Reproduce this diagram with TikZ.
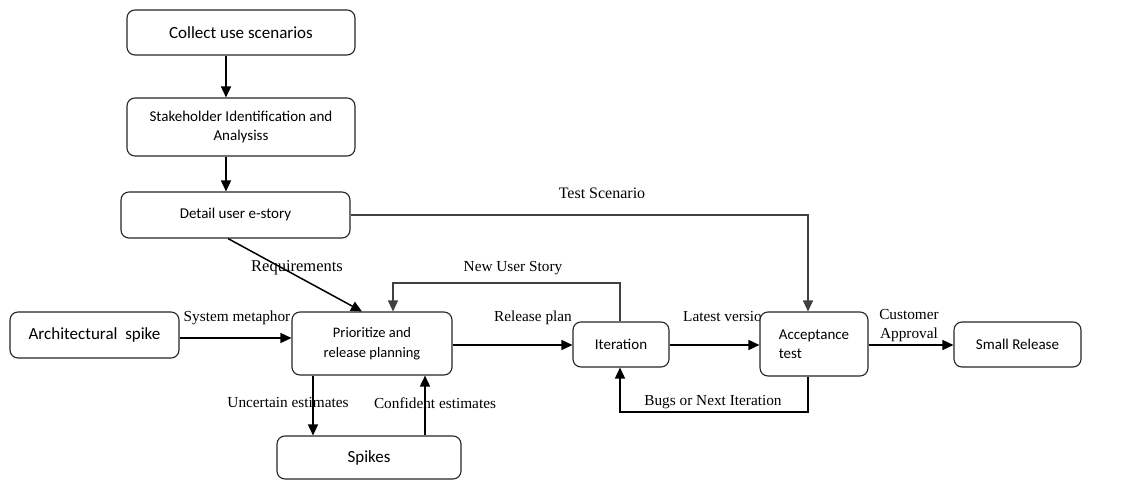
\documentclass[tikz,border=0pt]{standalone}
\usepackage{fontspec}
\setmainfont{Liberation Serif}
\newfontfamily\boxfont{Carlito}
\usetikzlibrary{arrows.meta}
\newcommand\boxsize[1]{\boxfont\fontsize{#1}{19.5}\selectfont}
\begin{document}
\begin{tikzpicture}[x=1pt,y=-1pt,
  stagebox/.style={draw=black!85, fill=white, line width=1.1pt, rounded corners=8pt,
    inner sep=0pt, align=center, font=\boxsize{15}},
  flow/.style={line width=1.5pt, -{Triangle[length=11pt,width=10pt]}},
  lightflow/.style={line width=1.1pt, draw=black!75, -{Triangle[length=11pt,width=10pt]}},
  lbl/.style={font=\fontsize{15.3}{17}\selectfont, inner sep=0pt}]
\useasboundingbox (0,0) rectangle (1122,481);

% connector labels (set first so boxes and lines lie over them)
\node[lbl, font=\fontsize{16.5}{18}\selectfont] (lreq) at (297,268) {Requirements};
\node[lbl, font=\fontsize{16}{18}\selectfont] (lts) at (602,193) {Test Scenario};
\node[lbl] (lnus) at (513,268) {New User Story};
\node[lbl] (lsm) at (237,318) {System metaphor};
\node[lbl] (lrp) at (533,318) {Release plan};
\node[lbl, anchor=west] (llv) at (683,317) {Latest version};
\node[lbl, align=center, font=\fontsize{15.3}{19}\selectfont] (lca) at (909,326) {Customer\\Approval};
\node[lbl] (lbug) at (713,402) {Bugs or Next Iteration};
\node[lbl] (lue) at (288,403) {Uncertain estimates};
\node[lbl] (lce) at (435,403) {Confident estimates};

% process boxes
\node[stagebox, font=\boxsize{17}, minimum width=228pt, minimum height=45pt] (collect) at (241,32.5) {Collect use scenarios};
\node[stagebox, minimum width=228pt, minimum height=58pt] (stake) at (241,127) {Stakeholder Identification and\\Analysiss};
\node[stagebox, minimum width=229pt, minimum height=46pt] (detail) at (235.5,215) {Detail user e-story};
\node[stagebox, font=\boxsize{17}, minimum width=169pt, minimum height=46pt] (arch) at (94.5,335) {Architectural\ \ spike};
\node[stagebox, font=\boxsize{14.5}, minimum width=160pt, minimum height=63pt] (prio) at (372,343.5) {Prioritize and\\release planning};
\node[stagebox, font=\boxsize{17}, minimum width=184pt, minimum height=43pt] (spikes) at (369,457.5) {Spikes};
\node[stagebox, minimum width=96pt, minimum height=45pt] (iter) at (621,344.5) {Iteration};
\node[stagebox, minimum width=108pt, minimum height=64pt, align=left] (accept) at (814,344) {Acceptance\\test};
\node[stagebox, minimum width=127pt, minimum height=45pt] (small) at (1017.5,344.5) {Small Release};

% routing points
\coordinate (xa) at (226,0);
\coordinate (xr1) at (228,0);
\coordinate (xr2) at (362,0);
\coordinate (xts) at (808,0);
\coordinate (nus) at (393,283);
\coordinate (ya) at (0,338);
\coordinate (yb) at (0,345);
\coordinate (bugs) at (620,412);
\coordinate (xu) at (313,0);
\coordinate (xc) at (425,0);

% connectors
\draw[flow] (collect.south -| xa) -- (stake.north -| xa);
\draw[flow] (stake.south -| xa) -- (detail.north -| xa);
\draw[flow] (detail.south -| xr1) -- (prio.north -| xr2);
\draw[lightflow] (detail.east) -- (xts |- detail.east) -- (accept.north -| xts);
\draw[lightflow] (iter.north -| bugs) |- (nus) -- (prio.north -| nus);
\draw[flow] (arch.east |- ya) -- (prio.west |- ya);
\draw[flow] (prio.east |- yb) -- (iter.west |- yb);
\draw[flow] (iter.east |- yb) -- (accept.west |- yb);
\draw[flow] (accept.east |- yb) -- (small.west |- yb);
\draw[flow] (accept.south -| xts) |- (bugs) -- (iter.south -| bugs);
\draw[flow] (prio.south -| xu) -- (spikes.north -| xu);
\draw[flow] (spikes.north -| xc) -- (prio.south -| xc);
\end{tikzpicture}
\end{document}
